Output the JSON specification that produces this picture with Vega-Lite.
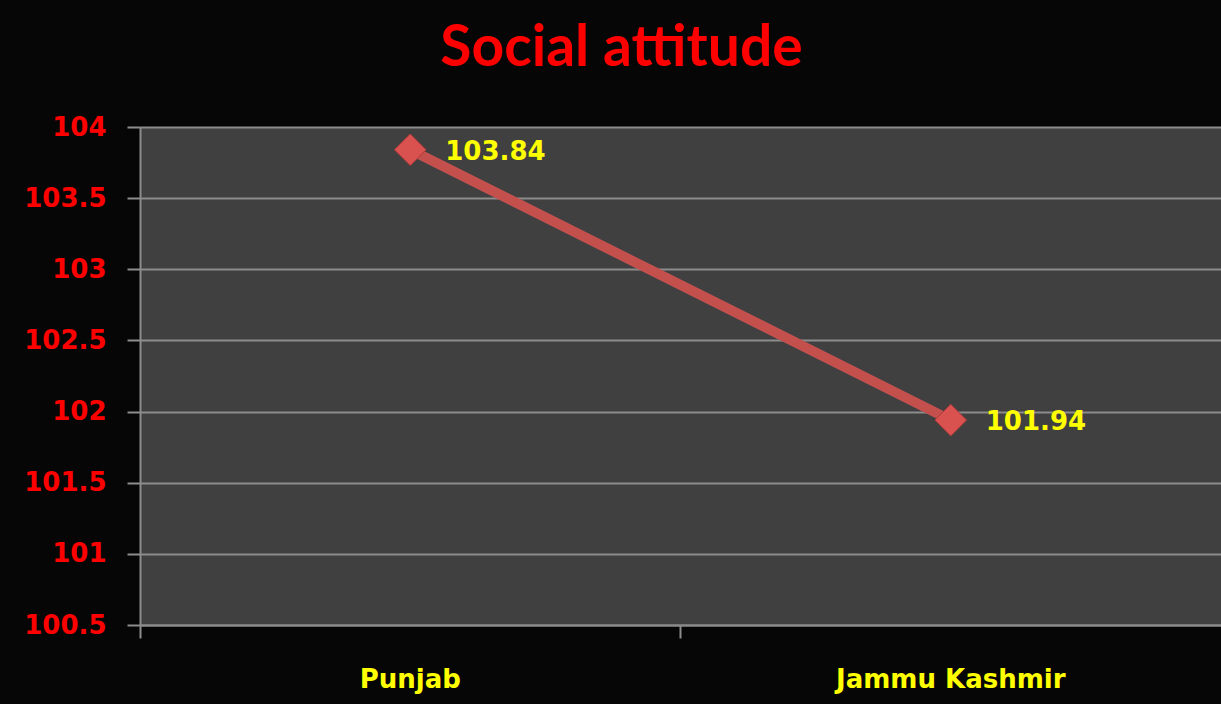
{
  "$schema": "https://vega.github.io/schema/vega-lite/v6.json",
  "width": 1081,
  "height": 498,
  "autosize": {"type": "none"},
  "padding": {"left": 140, "top": 127, "right": 0, "bottom": 79},
  "background": "#060606",
  "title": {
    "text": "Social attitude",
    "color": "#ff0000",
    "font": "Lato",
    "fontSize": 57,
    "fontWeight": "bold",
    "anchor": "middle",
    "dx": -59,
    "offset": 36
  },
  "config": {
    "view": {"fill": "#404040", "stroke": null}
  },
  "data": {
    "values": [
      {"state": "Punjab", "score": 103.84},
      {"state": "Jammu Kashmir", "score": 101.94}
    ]
  },
  "encoding": {
    "x": {
      "field": "state",
      "type": "nominal",
      "sort": null,
      "scale": {"type": "band", "paddingInner": 0, "paddingOuter": 0},
      "axis": {
        "title": null,
        "grid": false,
        "bandPosition": 0,
        "domain": true,
        "domainColor": "#8c8c8c",
        "domainWidth": 2,
        "ticks": true,
        "tickColor": "#8c8c8c",
        "tickWidth": 2,
        "tickSize": 13,
        "labelAngle": 0,
        "labelLimit": 0,
        "labelColor": "#ffff00",
        "labelFont": "DejaVu Sans",
        "labelFontWeight": "bold",
        "labelFontSize": 26,
        "labelPadding": 28
      }
    },
    "y": {
      "field": "score",
      "type": "quantitative",
      "scale": {"domain": [100.5, 104], "nice": false, "zero": false},
      "axis": {
        "title": null,
        "values": [100.5, 101, 101.5, 102, 102.5, 103, 103.5, 104],
        "format": ".1~f",
        "grid": true,
        "gridColor": "#8c8c8c",
        "gridWidth": 2,
        "domain": true,
        "domainColor": "#8c8c8c",
        "domainWidth": 2,
        "ticks": true,
        "tickColor": "#8c8c8c",
        "tickWidth": 2,
        "tickSize": 13,
        "labelColor": "#ff0000",
        "labelFont": "DejaVu Sans",
        "labelFontWeight": "bold",
        "labelFontSize": 26,
        "labelPadding": 21
      }
    }
  },
  "layer": [
    {
      "mark": {"type": "line", "color": "#c4504e", "strokeWidth": 10}
    },
    {
      "mark": {"type": "point", "shape": "diamond", "filled": true, "size": 1000, "color": "#d9524f", "opacity": 1, "stroke": "#b03a38", "strokeWidth": 1}
    },
    {
      "mark": {"type": "text", "align": "left", "baseline": "middle", "dx": 35, "dy": 2, "color": "#ffff00", "font": "DejaVu Sans", "fontWeight": "bold", "fontSize": 26},
      "encoding": {"text": {"field": "score", "type": "quantitative", "format": ".2f"}}
    }
  ]
}
